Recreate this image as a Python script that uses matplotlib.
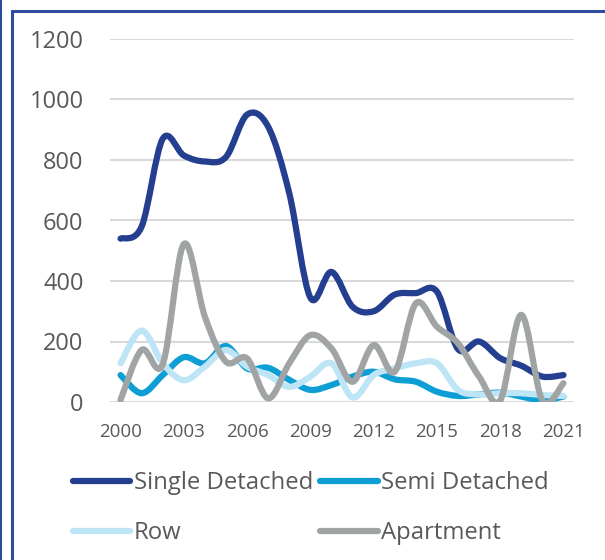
import numpy as np
import matplotlib
matplotlib.use("Agg")
import matplotlib.pyplot as plt
from matplotlib.path import Path
from matplotlib.patches import PathPatch, Rectangle
from matplotlib.lines import Line2D

plt.rcParams['font.family'] = ['Open Sans', 'DejaVu Sans']

# data
years = list(range(2000, 2022))
single_detached = [540, 580, 870, 815, 795, 810, 950, 910, 690, 345, 430, 315,
                   300, 355, 360, 365, 175, 200, 145, 120, 84, 89]
semi_detached = [89, 29, 89, 148, 128, 185, 111, 113, 73, 40, 56, 84,
                 100, 75, 67, 34, 20, 25, 31, 18, 5, 18]
row = [128, 236, 128, 72, 117, 172, 117, 89, 50, 84, 128, 15,
       89, 111, 128, 128, 40, 25, 29, 29, 23, 20]
apartment = [7, 172, 125, 522, 282, 133, 144, 12, 128, 221, 177, 67,
             188, 100, 326, 249, 194, 84, 5, 288, 5, 62]

series = ['Single Detached', 'Semi Detached', 'Row', 'Apartment']
values = [single_detached, semi_detached, row, apartment]
colors = ['#243F8F', '#0E9ED6', '#BEE5F5', '#A1A4A5']
xticks = list(range(2000, 2022, 3))
yticks = list(range(0, 1201, 200))
text_col = '#595959'


def smooth_path(xs, ys):
    # excel-style smoothed line: cubic bezier through every point
    pts = np.column_stack([xs, ys]).astype(float)
    n = len(pts)
    verts = [pts[0]]
    codes = [Path.MOVETO]
    for i in range(n - 1):
        p0 = pts[i - 1] if i > 0 else pts[i]
        p1 = pts[i]
        p2 = pts[i + 1]
        p3 = pts[i + 2] if i + 2 < n else pts[i + 1]
        c1 = p1 + (p2 - p0) / 6.0
        c2 = p2 - (p3 - p1) / 6.0
        verts += [c1, c2, p2]
        codes += [Path.CURVE4] * 3
    return Path(verts, codes)


W, H = 605, 560
fig = plt.figure(figsize=(W / 100, H / 100), dpi=100)
ax = fig.add_axes([110 / W, (H - 402) / H, 464 / W, 363 / H])

for vals, col in zip(values, colors):
    patch = PathPatch(smooth_path(years, vals), fill=False, edgecolor=col,
                      lw=4.5, capstyle='round', joinstyle='round', zorder=3)
    ax.add_patch(patch)

ax.set_xlim(1999.5, 2021.5)
ax.set_ylim(0, 1200)
ax.set_xticks(xticks)
ax.set_yticks(yticks)
ax.tick_params(axis='x', length=0, pad=15, labelsize=13.5, labelcolor=text_col)
ax.tick_params(axis='y', length=0, pad=19, labelsize=17, labelcolor=text_col)
ax.grid(axis='y', color='#D9D9D9', lw=1.5, zorder=0)
ax.set_axisbelow(True)
for s in ax.spines.values():
    s.set_visible(False)

# legend fills column by column, so order it to read row by row
handles = {s: Line2D([], [], color=c, lw=4.5, solid_capstyle='round')
           for s, c in zip(series, colors)}
order = ['Single Detached', 'Row', 'Semi Detached', 'Apartment']
fig.legend([handles[s] for s in order], order, ncol=2, loc='center left',
           bbox_to_anchor=(73 / W, (H - 508) / H), frameon=False,
           fontsize=17.2, labelcolor=text_col, handlelength=2.4,
           handletextpad=0.15, columnspacing=0.3, labelspacing=1.08,
           borderpad=0, borderaxespad=0)

# frame around the chart
fig.add_artist(Rectangle((12 / W, -0.1), 1.0, (H - 11) / H + 0.1,
                         transform=fig.transFigure, fill=False,
                         edgecolor='#2E4B9C', lw=2.2))
fig.add_artist(Line2D([1 / W, 1 / W], [0, 1], transform=fig.transFigure,
                      color='#2E4B9C', lw=1.5))

fig.savefig('out.png', dpi=100)
